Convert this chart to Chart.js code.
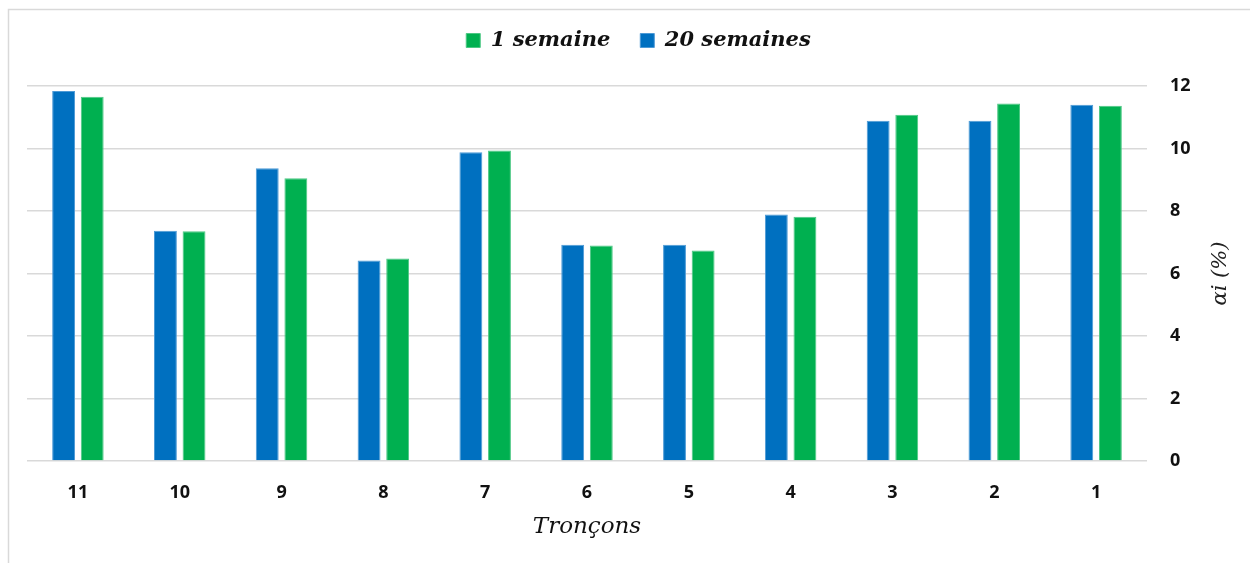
<!DOCTYPE html>
<html lang="fr">
<head>
<meta charset="UTF-8">
<title>Tronçons</title>
<script src="https://cdn.jsdelivr.net/npm/chart.js"></script>
<style>
  body { margin: 0; background: #fff; }
  .janela { width: 1250px; height: 563px; position: relative; }
</style>
</head>
<body>
<div class="janela">
  <canvas id="grafico"></canvas>
</div>
<script>
  // données
  var troncons = ['11', '10', '9', '8', '7', '6', '5', '4', '3', '2', '1']
  var vingtSemaines = [11.84, 7.37, 9.37, 6.42, 9.88, 6.92, 6.92, 7.89, 10.89, 10.89, 11.40]
  var uneSemaine = [11.66, 7.35, 9.05, 6.48, 9.94, 6.90, 6.74, 7.82, 11.08, 11.44, 11.37]
  var ticksY = [0, 2, 4, 6, 8, 10, 12]

  var corBordure = '#d9d9d9'

  // espace entre la légende et le graphe
  const margeLegende = {
    id: 'margeLegende',
    beforeInit(chart) {
      const fitOrig = chart.legend.fit
      chart.legend.fit = function () {
        fitOrig.bind(chart.legend)()
        this.height += 25
      }
    }
  }

  // cadre + titre de l'axe y (écrit de bas en haut)
  const cadreEtTitre = {
    id: 'cadreEtTitre',
    beforeDraw(chart) {
      const ctx = chart.ctx
      ctx.save()
      ctx.strokeStyle = corBordure
      ctx.lineWidth = 1.5
      ctx.beginPath()
      ctx.moveTo(8.5, 563)
      ctx.lineTo(8.5, 9.5)
      ctx.lineTo(1250, 9.5)
      ctx.stroke()
      ctx.restore()
    },
    afterDraw(chart) {
      const ctx = chart.ctx
      const area = chart.chartArea
      ctx.save()
      ctx.translate(1221, (area.top + area.bottom) / 2)
      ctx.rotate(-Math.PI / 2)
      ctx.fillStyle = '#222'
      ctx.font = 'italic 21px "DejaVu Serif"'
      ctx.textAlign = 'center'
      ctx.textBaseline = 'middle'
      ctx.fillText('\u03B1i (%)', 0, 0)
      ctx.restore()
    }
  }

  const data = {
    labels: troncons,
    datasets: [{
      label: '20 semaines',
      data: vingtSemaines,
      backgroundColor: '#0070c0',
      borderColor: '#4d9ad6',
      borderWidth: 1
    }, {
      label: '1 semaine',
      data: uneSemaine,
      backgroundColor: '#00b050',
      borderColor: '#4cc884',
      borderWidth: 1
    }]
  }

  const config = {
    type: 'bar',
    data: data,
    options: {
      responsive: true,
      maintainAspectRatio: false,
      animation: false,
      categoryPercentage: 0.562,
      barPercentage: 0.8,
      layout: { padding: { left: 27, top: 0, right: 0, bottom: 0 } },
      plugins: {
        tooltip: { enabled: false },
        legend: {
          reverse: true,
          labels: {
            boxWidth: 14,
            boxHeight: 14,
            padding: 30,
            color: '#111',
            font: { family: 'DejaVu Serif', size: 21, weight: 'bold', style: 'italic' }
          }
        }
      },
      scales: {
        x: {
          grid: { display: false, drawTicks: false },
          border: { display: false },
          ticks: {
            padding: 21,
            color: '#111',
            font: { family: 'Open Sans', size: 18, weight: 'bold' }
          },
          title: {
            display: true,
            text: 'Tronçons',
            color: '#111',
            padding: { top: 0, bottom: 22 },
            font: { family: 'DejaVu Serif', size: 23, style: 'italic' }
          },
          afterFit(scale) { scale.height = 102 }
        },
        y: {
          position: 'right',
          min: 0,
          max: 12,
          grid: { color: corBordure, lineWidth: 1.4, drawTicks: false },
          border: { display: false },
          afterBuildTicks(scale) { scale.ticks = ticksY.map(v => ({ value: v })) },
          ticks: {
            padding: 23,
            color: '#111',
            font: { family: 'Open Sans', size: 18, weight: 'bold' }
          },
          afterFit(scale) { scale.width = 103 }
        }
      }
    },
    plugins: [margeLegende, cadreEtTitre]
  }

  const grafico = new Chart(document.getElementById('grafico'), config)
</script>
</body>
</html>
